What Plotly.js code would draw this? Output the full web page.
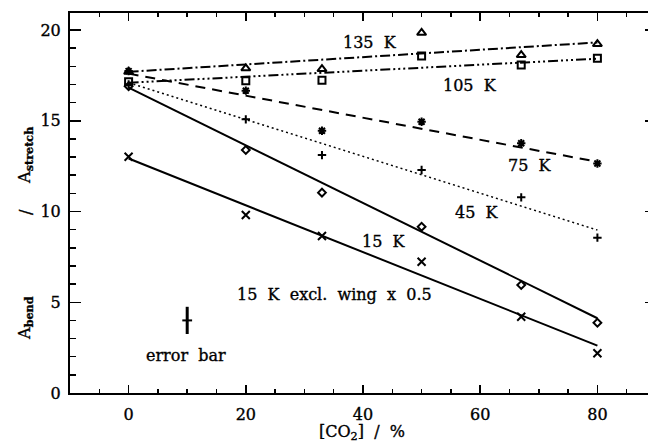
<!DOCTYPE html>
<html>
<head>
<meta charset="utf-8">
<script src="https://cdn.plot.ly/plotly-3.0.1.min.js"></script>
<style>
html, body { margin: 0; padding: 0; overflow: hidden; background: #fff; }
#chart { width: 660px; height: 444px; }
#chart text { stroke: #000; stroke-width: 0.35px; }
</style>
</head>
<body>
<div id="chart"></div>
<script>
// ---- data ----
const co2 = [0, 20, 33, 50, 67, 80];
const k135 = [17.70, 17.89, 17.85, 19.85, 18.62, 19.23];
const k105 = [17.15, 17.21, 17.24, 18.57, 18.07, 18.44];
const k75 = [17.74, 16.66, 14.45, 14.95, 13.76, 12.65];
const k45 = [17.00, 15.08, 13.11, 12.29, 10.78, 8.56];
const k15 = [16.90, 13.39, 11.04, 9.16, 5.95, 3.87];
const k15wing = [13.02, 9.81, 8.65, 7.23, 4.20, 2.19];

const fitX = [0, 80];
const fit135 = [17.70, 19.32];
const fit105 = [17.10, 18.42];
const fit75 = [17.60, 12.74];
const fit45 = [17.10, 8.98];
const fit15 = [16.83, 4.12];
const fit15wing = [12.92, 2.61];

const errX = [10];
const errY = [4.0];
const errHalf = [0.75];

const labels = ['135  K', '105  K', '75  K', '45  K', '15  K', '15  K  excl.  wing  x  0.5', 'error  bar'];
const labelX = [41.2, 58.2, 68.5, 59.4, 43.6, 35.1, 9.8];
const labelY = [19.32, 16.97, 12.52, 9.93, 8.34, 5.45, 2.09];

// ---- styles ----
const black = '#000';
const series = [
  {y: k135, fit: fit135, sym: 'triangle-up-open', size: 8, dash: '10px,3px,2px,3px', lw: 2},
  {y: k105, fit: fit105, sym: 'square-open', size: 7, dash: '10px,3px,2px,3px,2px,3px,2px,3px', lw: 2},
  {y: k75, fit: fit75, sym: 'asterisk-open', size: 7, dash: '10px,7px', lw: 2},
  {y: k45, fit: fit45, sym: 'cross-thin-open', size: 6, dash: '2px,3px', lw: 1.5},
  {y: k15, fit: fit15, sym: 'diamond-open', size: 6, dash: 'solid', lw: 2},
  {y: k15wing, fit: fit15wing, sym: 'x-thin-open', size: 8, dash: 'solid', lw: 2}
];

const traces = [];
series.forEach(s => {
  traces.push({
    x: fitX, y: s.fit, mode: 'lines', type: 'scatter', hoverinfo: 'skip',
    line: {color: black, width: s.lw, dash: s.dash}
  });
  traces.push({
    x: co2, y: s.y, mode: 'markers', type: 'scatter',
    marker: {symbol: s.sym, size: s.size, color: black, line: {color: black, width: 2}}
  });
});
traces.push({
  x: errX, y: errY, mode: 'markers', type: 'scatter',
  marker: {symbol: 'line-ew-open', size: 7, color: black, line: {color: black, width: 2}},
  error_y: {type: 'data', array: errHalf, visible: true, width: 0, thickness: 3, color: black}
});

const font = {family: 'DejaVu Serif', size: 16, color: black};
const annotations = labels.map((t, i) => ({
  x: labelX[i], y: labelY[i], xref: 'x', yref: 'y', text: t,
  showarrow: false, xanchor: 'center', yanchor: 'middle', font: font
}));
// axis titles as paper annotations
annotations.push({
  x: 0.498, y: -0.103, xref: 'paper', yref: 'paper', text: '[CO<sub>2</sub>]  /  %',
  showarrow: false, xanchor: 'center', yanchor: 'middle', font: font
});
annotations.push({
  x: -0.077, y: (393 - 318) / 380, xref: 'paper', yref: 'paper',
  text: 'A<sub><b>bend</b></sub>', textangle: -90,
  showarrow: false, xanchor: 'center', yanchor: 'middle', font: font
});
annotations.push({
  x: -0.077, y: (393 - 212) / 380, xref: 'paper', yref: 'paper',
  text: '/', textangle: -90,
  showarrow: false, xanchor: 'center', yanchor: 'middle', font: font
});
annotations.push({
  x: -0.077, y: (393 - 155) / 380, xref: 'paper', yref: 'paper',
  text: 'A<sub><b>stretch</b></sub>', textangle: -90,
  showarrow: false, xanchor: 'center', yanchor: 'middle', font: font
});

const axisCommon = {
  showline: true, linewidth: 2, linecolor: black, mirror: 'ticks',
  ticks: 'inside', tickcolor: black, tickwidth: 1.5,
  showgrid: false, zeroline: false, tickfont: font
};

const layout = {
  width: 660, height: 444,
  margin: {l: 70, r: 4, t: 13, b: 51, pad: 0},
  paper_bgcolor: '#fff', plot_bgcolor: '#fff',
  showlegend: false,
  font: font,
  xaxis: Object.assign({}, axisCommon, {
    range: [-10, 90], tickmode: 'linear', tick0: 0, dtick: 20, ticklen: 8,
    ticklabelstandoff: 6,
    minor: {tickmode: 'linear', tick0: 0, dtick: 5, ticks: 'inside', ticklen: 4, tickwidth: 1.5, tickcolor: black, showgrid: false}
  }),
  yaxis: Object.assign({}, axisCommon, {
    range: [0, 20.94], tickmode: 'linear', tick0: 0, dtick: 5, ticklen: 11,
    ticklabelstandoff: 4,
    minor: {tickmode: 'linear', tick0: 0, dtick: 1, ticks: 'inside', ticklen: 6, tickwidth: 1.5, tickcolor: black, showgrid: false}
  }),
  annotations: annotations
};

Plotly.newPlot('chart', traces, layout, {displayModeBar: false, staticPlot: true});
</script>
</body>
</html>
